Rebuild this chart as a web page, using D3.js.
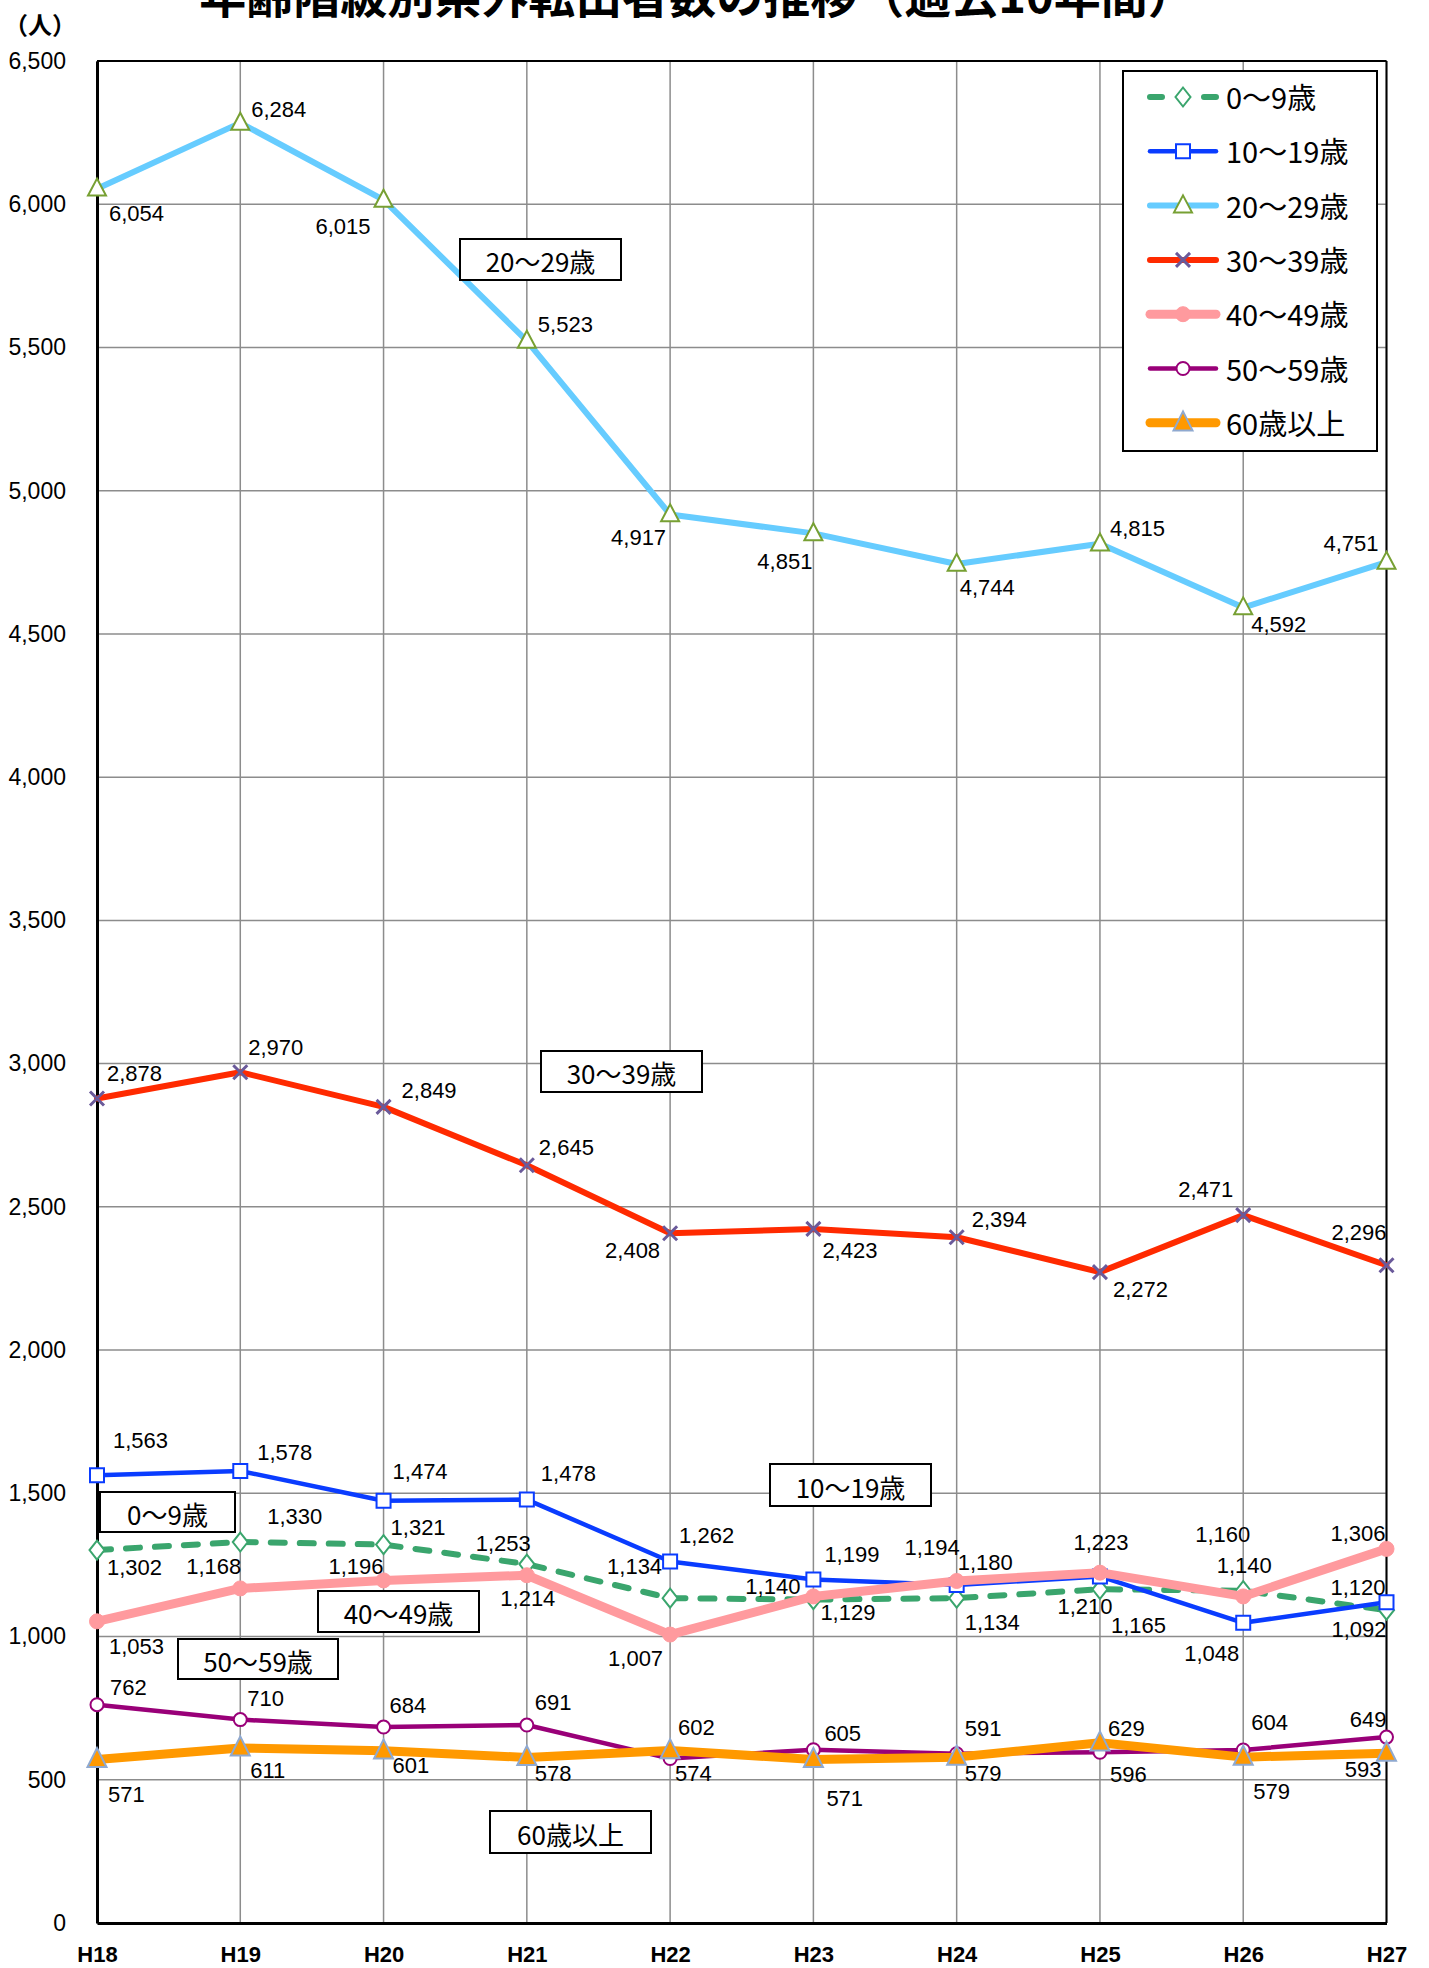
<!DOCTYPE html>
<html lang="ja">
<head>
<meta charset="utf-8">
<title>年齢階級別県外転出者数の推移</title>
<script src="https://cdn.jsdelivr.net/npm/d3@7"></script>
<style>
  body { margin: 0; background: #fff; }
  svg { display: block; }
  .num { font-family: "Liberation Sans", Arial, sans-serif; font-size: 22px; fill: #000; }
  .jp { font-family: "Noto Sans CJK JP", sans-serif; fill: #000; }
</style>
</head>
<body>
<script>
// data
const years = ["H18", "H19", "H20", "H21", "H22", "H23", "H24", "H25", "H26", "H27"];
const age0_9   = [1302, 1330, 1321, 1253, 1134, 1129, 1134, 1165, 1160, 1092];
const age10_19 = [1563, 1578, 1474, 1478, 1262, 1199, 1180, 1210, 1048, 1120];
const age20_29 = [6054, 6284, 6015, 5523, 4917, 4851, 4744, 4815, 4592, 4751];
const age30_39 = [2878, 2970, 2849, 2645, 2408, 2423, 2394, 2272, 2471, 2296];
const age40_49 = [1053, 1168, 1196, 1214, 1007, 1140, 1194, 1223, 1140, 1306];
const age50_59 = [762, 710, 684, 691, 574, 605, 591, 596, 604, 649];
const age60    = [571, 611, 601, 578, 602, 571, 579, 629, 579, 593];
const seriesNames = ["0～9歳", "10～19歳", "20～29歳", "30～39歳", "40～49歳", "50～59歳", "60歳以上"];
const yTicks = d3.range(0, 6501, 500);

// label placement: [anchor, dx, dy] relative to the point
const lab0  = [["s",10,17],["s",27,-26],["s",7,-17],["e",4,-21],["e",-8,-32],["s",7,13],["s",8,24],["s",11,36],["e",7,-56],["e",0,19]];
const lab10 = [["s",16,-35],["s",17,-18],["s",9,-29],["s",14,-26],["s",9,-26],["s",11,-25],["s",1,-22],["m",-15,30],["e",-4,31],["e",-1,-15]];
const lab20 = [["s",12,25],["s",11,-13],["e",-13,27],["s",11,-16],["e",-4,23],["e",-1,28],["s",3,23],["s",10,-15],["s",8,17],["e",-8,-19]];
const lab30 = [["s",10,-25],["s",8,-25],["s",18,-16],["s",12,-18],["e",-10,17],["s",9,22],["s",15,-18],["s",13,17],["e",-10,-26],["e",0,-33]];
const lab40 = [["s",12,25],["e",1,-22],["e",0,-14],["m",1,23],["e",-7,24],["e",-13,-10],["e",3,-33],["m",1,-30],["m",1,-31],["e",-1,-15]];
const lab50 = [["s",13,-17],["s",7,-21],["s",6,-22],["s",8,-23],["s",5,15],["s",11,-16],["s",8,-25],["s",10,22],["s",8,-27],["e",0,-18]];
const lab60 = [["s",11,35],["s",10,23],["s",9,15],["s",8,16],["s",8,-23],["s",13,39],["s",8,16],["s",8,-14],["s",10,34],["e",-5,16]];

// marker shapes
function diamond(w, h) { return `M0,${-h/2}L${w/2},0L0,${h/2}L${-w/2},0Z`; }
function square(s) { return `M${-s/2},${-s/2}h${s}v${s}h${-s}Z`; }
function triangle(w, h) { return `M0,${-h*0.6}L${w/2},${h*0.4}L${-w/2},${h*0.4}Z`; }
function cross(s) { return `M${-s/2},${-s/2}L${s/2},${s/2}M${s/2},${-s/2}L${-s/2},${s/2}`; }
function circle(r) { return `M${-r},0A${r},${r} 0 1,0 ${r},0A${r},${r} 0 1,0 ${-r},0Z`; }

const series = [
  { name: seriesNames[0], values: age0_9,   labels: lab0,  color: "#3aa56d", width: 6, dash: "14,15",
    marker: diamond(15, 19), mFill: "#fff", mStroke: "#3aa56d", mWidth: 2 },
  { name: seriesNames[1], values: age10_19, labels: lab10, color: "#0a3cff", width: 4.5, dash: null,
    marker: square(14), mFill: "#fff", mStroke: "#0a3cff", mWidth: 2 },
  { name: seriesNames[2], values: age20_29, labels: lab20, color: "#66ccff", width: 6, dash: null,
    marker: triangle(18, 17), mFill: "#fff", mStroke: "#77a033", mWidth: 2 },
  { name: seriesNames[3], values: age30_39, labels: lab30, color: "#ff2a00", width: 6, dash: null,
    marker: cross(14), mFill: "none", mStroke: "#6a5a9a", mWidth: 3 },
  { name: seriesNames[4], values: age40_49, labels: lab40, color: "#ff9a9e", width: 9, dash: null,
    marker: circle(7.5), mFill: "#ff9a9e", mStroke: "#ff9a9e", mWidth: 1 },
  { name: seriesNames[5], values: age50_59, labels: lab50, color: "#990078", width: 4.5, dash: null,
    marker: circle(6.5), mFill: "#fff", mStroke: "#990078", mWidth: 2 },
  { name: seriesNames[6], values: age60,    labels: lab60, color: "#ff9900", width: 9, dash: null,
    marker: triangle(19, 19), mFill: "#ff9900", mStroke: "#8fa9d0", mWidth: 2 }
];

const callouts = [
  { text: "20～29歳", x: 460, y: 239, w: 161, h: 41 },
  { text: "30～39歳", x: 541, y: 1051, w: 161, h: 41 },
  { text: "0～9歳", x: 100, y: 1492, w: 135, h: 40 },
  { text: "40～49歳", x: 318, y: 1591, w: 161, h: 41 },
  { text: "50～59歳", x: 178, y: 1639, w: 160, h: 40 },
  { text: "10～19歳", x: 770, y: 1464, w: 161, h: 42 },
  { text: "60歳以上", x: 490, y: 1811, w: 161, h: 42 }
];

const width = 1429, height = 1968;
const plot = { left: 97, right: 1386.5, top: 61, bottom: 1923 };

const svg = d3.select("body").append("svg")
  .attr("width", width)
  .attr("height", height);

const x = d3.scalePoint().domain(years).range([plot.left, plot.right]);
const y = d3.scaleLinear().domain([0, 6500]).range([plot.bottom, plot.top]);

// grid
svg.append("g").selectAll("line.h")
  .data(yTicks).enter().append("line")
  .attr("x1", plot.left).attr("x2", plot.right)
  .attr("y1", d => y(d)).attr("y2", d => y(d))
  .attr("stroke", "#8c8c8c").attr("stroke-width", 1.5);
svg.append("g").selectAll("line.v")
  .data(years).enter().append("line")
  .attr("x1", d => x(d)).attr("x2", d => x(d))
  .attr("y1", plot.top).attr("y2", plot.bottom)
  .attr("stroke", "#8c8c8c").attr("stroke-width", 1.5);

// frame
svg.append("line").attr("x1", plot.left).attr("x2", plot.right).attr("y1", plot.top).attr("y2", plot.top)
  .attr("stroke", "#000").attr("stroke-width", 2);
svg.append("line").attr("x1", plot.right).attr("x2", plot.right).attr("y1", plot.top).attr("y2", plot.bottom)
  .attr("stroke", "#000").attr("stroke-width", 2);

// axes
const yAxis = d3.axisLeft(y).tickValues(yTicks).tickFormat(d3.format(",")).tickSize(0).tickPadding(31);
const gY = svg.append("g").attr("transform", `translate(${plot.left},0)`).call(yAxis);
gY.select(".domain").attr("stroke", "#000").attr("stroke-width", 3);
gY.selectAll("text").attr("class", "num").style("font-size", "23px");

const xAxis = d3.axisBottom(x).tickSize(0).tickPadding(28);
const gX = svg.append("g").attr("transform", `translate(0,${plot.bottom})`).call(xAxis);
gX.select(".domain").attr("stroke", "#000").attr("stroke-width", 3);
gX.selectAll("text").attr("class", "num").style("font-size", "22px").style("font-weight", "bold").attr("dy", "0.5em");

// lines
const line = d3.line().x((d, i) => x(years[i])).y(d => y(d));
series.forEach(s => {
  svg.append("path")
    .datum(s.values)
    .attr("d", line)
    .attr("fill", "none")
    .attr("stroke", s.color)
    .attr("stroke-width", s.width)
    .attr("stroke-linejoin", "round")
    .attr("stroke-linecap", "round")
    .attr("stroke-dasharray", s.dash);
  svg.append("g").selectAll("path")
    .data(s.values).enter().append("path")
    .attr("transform", (d, i) => `translate(${x(years[i])},${y(d)})`)
    .attr("d", s.marker)
    .attr("fill", s.mFill)
    .attr("stroke", s.mStroke)
    .attr("stroke-width", s.mWidth);
});

// data labels
const anchors = { s: "start", e: "end", m: "middle" };
series.forEach(s => {
  svg.append("g").selectAll("text")
    .data(s.values).enter().append("text")
    .attr("class", "num")
    .attr("x", (d, i) => x(years[i]) + s.labels[i][1])
    .attr("y", (d, i) => y(d) + s.labels[i][2])
    .attr("dominant-baseline", "central")
    .attr("text-anchor", (d, i) => anchors[s.labels[i][0]])
    .text(d => d3.format(",")(d));
});

// callouts
const cg = svg.append("g").selectAll("g").data(callouts).enter().append("g");
cg.append("rect")
  .attr("x", d => d.x).attr("y", d => d.y).attr("width", d => d.w).attr("height", d => d.h)
  .attr("fill", "#fff").attr("stroke", "#000").attr("stroke-width", 2);
cg.append("text")
  .attr("class", "jp")
  .attr("x", d => d.x + d.w / 2).attr("y", d => d.y + d.h / 2 + 1)
  .attr("text-anchor", "middle").attr("dominant-baseline", "central")
  .style("font-size", "26px")
  .text(d => d.text);

// legend
const legend = svg.append("g");
legend.append("rect")
  .attr("x", 1123).attr("y", 71).attr("width", 254).attr("height", 380)
  .attr("fill", "#fff").attr("stroke", "#000").attr("stroke-width", 2);
series.forEach((s, i) => {
  const ly = 97 + i * 54.3;
  legend.append("line")
    .attr("x1", 1150).attr("x2", 1216).attr("y1", ly).attr("y2", ly)
    .attr("stroke", s.color).attr("stroke-width", s.width)
    .attr("stroke-linecap", "round")
    .attr("stroke-dasharray", s.dash ? "12,42" : null);
  legend.append("path")
    .attr("transform", `translate(1183,${ly})`)
    .attr("d", s.marker)
    .attr("fill", s.mFill).attr("stroke", s.mStroke).attr("stroke-width", s.mWidth);
  legend.append("text")
    .attr("class", "jp")
    .attr("x", 1226).attr("y", ly - 1)
    .attr("dominant-baseline", "central")
    .style("font-size", "29px")
    .text(s.name);
});

// title and unit
svg.append("text")
  .attr("class", "jp")
  .attr("x", 697).attr("y", 13)
  .attr("text-anchor", "middle")
  .style("font-size", "47px").style("font-weight", "bold")
  .text("年齢階級別県外転出者数の推移（過去10年間）");
svg.append("text")
  .attr("class", "jp")
  .attr("x", 4).attr("y", 23)
  .attr("dominant-baseline", "central")
  .style("font-size", "24px").style("font-weight", "bold")
  .text("（人）");
</script>
</body>
</html>
